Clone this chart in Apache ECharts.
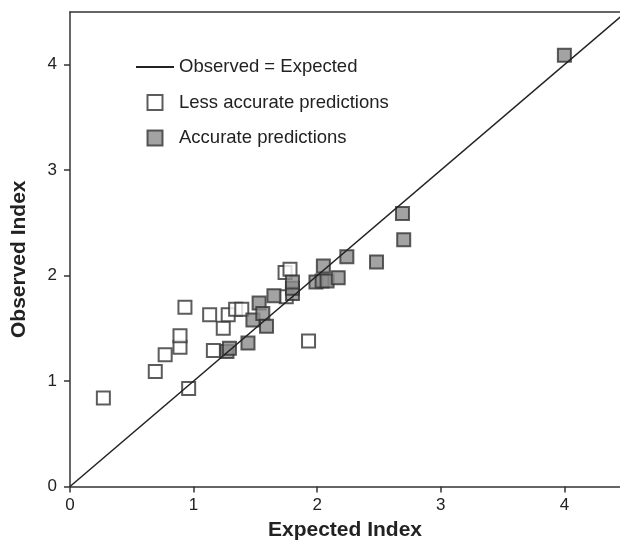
<!DOCTYPE html>
<html>
<head>
<meta charset="utf-8">
<title>Observed vs Expected Index</title>
<script src="https://cdn.jsdelivr.net/npm/echarts@6/dist/echarts.min.js"></script>
<style>
  html, body { margin: 0; padding: 0; background: #fff; }
  #main { width: 620px; height: 545px; }
</style>
</head>
<body>
<div id="main"></div>
<script type="text/javascript">
    // data: [expected, observed]
    var lessAccurate = [
      [0.27, 0.84], [0.69, 1.09], [0.77, 1.25], [0.89, 1.32], [0.89, 1.43],
      [0.93, 1.70], [0.96, 0.93], [1.13, 1.63], [1.16, 1.29], [1.24, 1.50],
      [1.28, 1.63], [1.34, 1.68], [1.39, 1.68], [1.74, 2.03], [1.78, 2.06],
      [1.75, 1.80], [1.93, 1.38]
    ];
    var accurate = [
      [1.27, 1.28], [1.29, 1.31], [1.44, 1.36], [1.48, 1.58], [1.53, 1.74],
      [1.56, 1.64], [1.59, 1.52], [1.65, 1.81], [1.80, 1.83], [1.80, 1.88],
      [1.80, 1.94], [1.99, 1.94], [2.04, 1.95], [2.08, 1.95], [2.05, 2.09],
      [2.17, 1.98], [2.24, 2.18], [2.48, 2.13], [2.69, 2.59], [2.70, 2.34],
      [4.00, 4.09]
    ];
    var identityLine = [[0, 0], [4.5, 4.5]];
    var xTicks = [0, 1, 2, 3, 4];
    var yTicks = [0, 1, 2, 3, 4];

    var font = 'Liberation Sans, Arial, Helvetica, sans-serif';
    var dark = '#333';
    var square = 'path://M0,0h10v10h-10z';

    var chart = echarts.init(document.getElementById('main'));

    var option = {
      animation: false,
      backgroundColor: '#fff',
      grid: { left: 70, top: 12, right: 0, bottom: 58.5, outerBoundsMode: 'none' },
      legend: {
        orient: 'vertical',
        left: 135, top: 57.5, padding: 0,
        itemWidth: 38, itemHeight: 15, itemGap: 16.5,
        symbolKeepAspect: true,
        textStyle: { fontFamily: font, fontSize: 18.5, color: '#222' },
        data: [
          { name: 'Observed = Expected', itemStyle: { opacity: 0 } },
          { name: 'Less accurate predictions', icon: square },
          { name: 'Accurate predictions', icon: square }
        ]
      },
      xAxis: [{
        type: 'value', min: 0, max: 4.45,
        name: 'Expected Index', nameLocation: 'middle', nameGap: 33,
        nameTextStyle: { fontFamily: font, fontSize: 21, fontWeight: 'bold', color: '#222' },
        splitLine: { show: false },
        axisLine: { show: true, lineStyle: { color: dark, width: 1.5 } },
        axisTick: { show: true, length: 6, customValues: xTicks, lineStyle: { color: dark, width: 1.5 } },
        axisLabel: { customValues: xTicks, margin: 10, fontFamily: font, fontSize: 17, color: '#222' }
      }, {
        // top frame line only
        type: 'value', position: 'top', min: 0, max: 4.45,
        splitLine: { show: false },
        axisLine: { show: true, onZero: false, lineStyle: { color: dark, width: 1.5 } },
        axisTick: { show: false },
        axisLabel: { show: false }
      }],
      yAxis: {
        type: 'value', min: 0, max: 4.5,
        name: 'Observed Index', nameLocation: 'middle', nameGap: 40,
        nameTextStyle: { fontFamily: font, fontSize: 21, fontWeight: 'bold', color: '#222', padding: [0, 20, 0, 0] },
        splitLine: { show: false },
        axisLine: { show: true, lineStyle: { color: dark, width: 1.5 } },
        axisTick: { show: true, length: 6, customValues: yTicks, lineStyle: { color: dark, width: 1.5 } },
        axisLabel: { customValues: yTicks, margin: 13, fontFamily: font, fontSize: 17, color: '#222' }
      },
      series: [
        {
          name: 'Less accurate predictions',
          type: 'scatter',
          symbol: 'rect', symbolSize: 13,
          itemStyle: { color: '#fff', borderColor: dark, borderWidth: 2 },
          data: lessAccurate,
          z: 2
        },
        {
          name: 'Accurate predictions',
          type: 'scatter',
          symbol: 'rect', symbolSize: 13,
          itemStyle: { color: '#8c8c8c', borderColor: dark, borderWidth: 2 },
          data: accurate,
          z: 3
        },
        {
          name: 'Observed = Expected',
          type: 'line',
          symbol: 'none',
          itemStyle: { color: '#222' },
          lineStyle: { color: '#222', width: 1.5 },
          data: identityLine,
          z: 4
        }
      ]
    };

    chart.setOption(option);
</script>
</body>
</html>
